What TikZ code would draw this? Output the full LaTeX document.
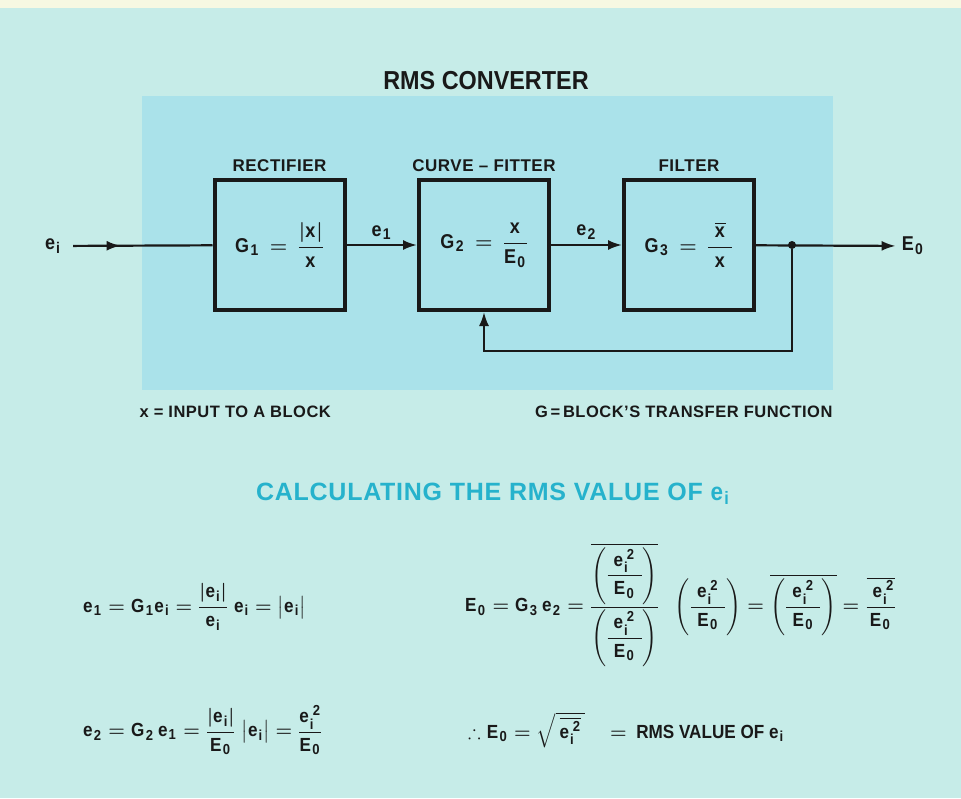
\RequirePackage{fix-cm}
\documentclass[tikz,border=0pt]{standalone}
\usepackage{amsmath, amssymb}
\usepackage{fontspec}
\setmainfont{Liberation Sans}[FakeStretch=0.9]
\setsansfont{Liberation Sans}[FakeStretch=0.9]
\newfontfamily\tagfont{Liberation Sans}[LetterSpace=3]
\DeclareMathSizes{16.5}{16.5}{12.5}{9.5}
\DeclareMathSizes{17}{17}{13}{10}
\DeclareMathSizes{19}{19}{14.5}{11}
\DeclareMathSizes{20}{20}{15.5}{12}
\DeclareMathSizes{25}{25}{18}{13}
\usetikzlibrary{arrows.meta, positioning, calc, decorations.markings}
\definecolor{pagemint}{RGB}{198, 236, 232}
\definecolor{panelcyan}{RGB}{170, 226, 234}
\definecolor{stripcream}{RGB}{246, 248, 226}
\definecolor{headteal}{RGB}{38, 178, 204}
\definecolor{inkdark}{RGB}{25, 25, 25}

\begin{document}
\begin{tikzpicture}[
  x=1pt, y=-1pt,
  every node/.style={font=\fontsize{17}{20}\selectfont\bfseries\boldmath, text=inkdark},
  block/.style={
    draw=inkdark, line width=4pt,
    minimum width=130pt, minimum height=130pt, inner sep=0pt,
    font=\fontsize{20}{24}\selectfont\bfseries\boldmath
  },
  tag/.style={font=\fontsize{17}{20}\selectfont\tagfont\bfseries\boldmath},
  note/.style={font=\fontsize{16.5}{19}\selectfont\tagfont\bfseries\boldmath},
  heading/.style={font=\fontsize{25}{30}\selectfont\tagfont\bfseries\boldmath},
  eqn/.style={anchor=west, inner sep=0pt, font=\fontsize{19}{23}\selectfont\bfseries\boldmath},
  terminal/.style={inner xsep=12pt, font=\fontsize{20}{24}\selectfont\bfseries\boldmath},
  sig/.style={line width=2.2pt, draw=inkdark},
  arrow/.style={sig, -{Latex[length=14pt, width=10pt]}},
  midarrow/.style={sig, postaction={decorate}, decoration={markings,
    mark=at position 0.34 with {\arrow{Latex[length=14pt, width=10pt]}}}},
  dot/.style={circle, fill=inkdark, inner sep=0pt, minimum size=8pt}
]

  % Hintergrund
  \fill[pagemint] (0,0) rectangle (961,798);
  \fill[stripcream] (0,0) rectangle (961,8);
  \fill[panelcyan] (142,96) rectangle (833,390);
  \useasboundingbox (0,0) rectangle (961,798);

  \node[font=\fontsize{26}{30}\selectfont\bfseries] (title) at (486,81) {RMS CONVERTER};

  % Bloecke
  \node[block] (rect) at (279.5,245) {$\mathsf{G_1 \,=\, \dfrac{|x|}{x}}$};
  \node[block, right=70.5pt of rect] (curve) {$\mathsf{G_2 \,=\, \dfrac{x}{E_0}}$};
  \node[block, right=71pt of curve] (filt) {$\mathsf{G_3 \,=\, \dfrac{\overline{x}}{\;x\;}}$};

  \node[tag, above=3pt of rect] (rectname) {RECTIFIER};
  \node[tag, above=3pt of curve] (curvename) {CURVE – FITTER};
  \node[tag, above=3pt of filt] (filtname) {FILTER};

  % Ein- und Ausgang
  \node[terminal] (ein) at (53,246) {$\mathsf{e_i}$};
  \node[terminal, inner xsep=6pt] (eout) at (913,246) {$\mathsf{E_0}$};
  \node[dot] (junc) at (792,245) {};

  \draw[midarrow] (ein) -- (rect);
  \draw[arrow] (rect) -- (curve) node[terminal, midway, above=1pt] {$\mathsf{e_1}$};
  \draw[arrow] (curve) -- (filt) node[terminal, midway, above=1pt] {$\mathsf{e_2}$};
  \draw[arrow] (filt) -- (eout);

  % Rueckfuehrung
  \draw[arrow] (junc) -- ++(0,106) -| (curve);

  % Legende
  \node[note, anchor=west] (xnote) at (136,412) {x = INPUT TO A BLOCK};
  \node[note, anchor=east] (gnote) at (836,412) {G\,=\,BLOCK’S TRANSFER FUNCTION};

  \node[heading, text=headteal] (calc) at (493,494) {CALCULATING THE RMS VALUE OF $\mathsf{e_i}$};

  % Gleichungen
  \node[eqn] (eqone) at (83,607)
    {$\mathsf{e_1 = G_1 e_i = \dfrac{|e_i|}{e_i}\; e_i = \bigl|e_i\bigr|}$};
  \node[eqn] (eqtwo) at (83,730)
    {$\mathsf{e_2 = G_2\, e_1 = \dfrac{|e_i|}{E_0}\; \bigl|e_i\bigr| = \dfrac{e_i^{\,2}}{E_0}}$};
  \node[eqn] (eqthree) at (465,605)
    {$\mathsf{E_0 = G_3\, e_2 = \dfrac{\overline{\left(\dfrac{\;e_i^{\,2}\;}{E_0}\right)}}{\left(\dfrac{\;e_i^{\,2}\;}{E_0}\right)}\;\;
      \left(\dfrac{\;e_i^{\,2}\;}{E_0}\right) = \overline{\left(\dfrac{\;e_i^{\,2}\;}{E_0}\right)} = \dfrac{\overline{\;e_i^{\,2}}}{E_0}}$};
  \node[eqn] (eqfour) at (468,730)
    {$\therefore \mathsf{E_0 = \sqrt{\,\overline{e_i^{\,2}}\,}}\quad=\ $ RMS VALUE OF $\mathsf{e_i}$};

\end{tikzpicture}
\end{document}
